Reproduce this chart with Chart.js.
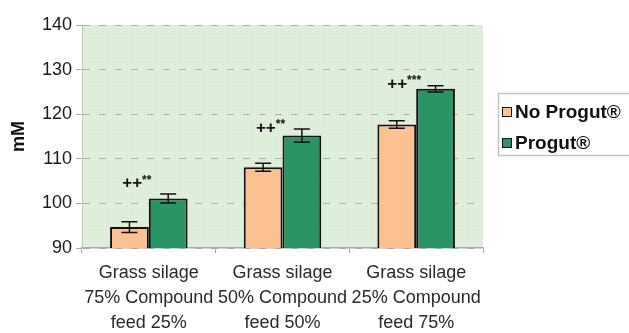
<!DOCTYPE html>
<html>
<head>
<meta charset="utf-8">
<script src="https://cdn.jsdelivr.net/npm/chart.js@4/dist/chart.umd.min.js"></script>
<style>
  html, body { margin: 0; padding: 0; background: #fff; }
  #wrap { width: 629px; height: 333px; }
</style>
</head>
<body>
<div id="wrap"><canvas id="myChart" width="629" height="333"></canvas></div>
<script>
// data
const categories = [
  ['Grass silage', '75% Compound', 'feed 25%'],
  ['Grass silage', '50% Compound', 'feed 50%'],
  ['Grass silage', '25% Compound', 'feed 75%']
];
const noProgut = [94.7, 108.1, 117.7];
const noProgutErr = [1.2, 0.9, 0.85];
const progut = [101.1, 115.2, 125.7];
const progutErr = [1.0, 1.5, 0.7];
const marks = ['++**', '++**', '++***'];
const markLevel = [104.4, 116.9, 126.8];
const yTicks = [90, 100, 110, 120, 130, 140];

const FONT = '"Liberation Sans", Arial, sans-serif';

// light green plot background with faint dots
const plotBg = {
  id: 'plotBg',
  beforeDraw(chart) {
    const { ctx, chartArea: a } = chart;
    const pc = document.createElement('canvas');
    pc.width = 3; pc.height = 3;
    const p = pc.getContext('2d');
    p.fillStyle = '#e0eedc';
    p.fillRect(0, 0, 3, 3);
    p.fillStyle = '#d3e4cf';
    p.fillRect(1, 1, 1, 1);
    ctx.save();
    ctx.fillStyle = ctx.createPattern(pc, 'repeat');
    ctx.fillRect(a.left, a.top, a.right - a.left, a.bottom - a.top);
    ctx.restore();
  }
};

// error bars + significance marks
const errBars = {
  id: 'errBars',
  afterDatasetsDraw(chart) {
    const { ctx } = chart;
    const y = chart.scales.y;
    const x = chart.scales.x;
    const errs = [noProgutErr, progutErr];
    ctx.save();
    ctx.strokeStyle = '#111';
    ctx.lineWidth = 1.5;
    chart.data.datasets.forEach((ds, di) => {
      chart.getDatasetMeta(di).data.forEach((bar, i) => {
        const v = ds.data[i], e = errs[di][i];
        const t = y.getPixelForValue(v + e), b = y.getPixelForValue(v - e);
        ctx.beginPath();
        ctx.moveTo(bar.x, t); ctx.lineTo(bar.x, b);
        ctx.moveTo(bar.x - 8, t); ctx.lineTo(bar.x + 8, t);
        ctx.moveTo(bar.x - 8, b); ctx.lineTo(bar.x + 8, b);
        ctx.stroke();
      });
    });
    ctx.fillStyle = '#111';
    ctx.textBaseline = 'middle';
    marks.forEach((m, i) => {
      const plus = m.replace(/\*/g, ''), stars = m.replace(/\+/g, '');
      ctx.font = 'bold 17px ' + FONT;
      const pw = ctx.measureText(plus).width;
      ctx.font = 'bold 12px ' + FONT;
      const sw = ctx.measureText(stars).width;
      const cx = x.getPixelForValue(i) - 12;
      const cy = y.getPixelForValue(markLevel[i]);
      const left = cx - (pw + sw) / 2;
      ctx.font = 'bold 17px ' + FONT;
      ctx.textAlign = 'left';
      ctx.fillText(plus, left, cy);
      ctx.font = 'bold 12px ' + FONT;
      ctx.fillText(stars, left + pw, cy - 3);
    });
    ctx.restore();
  }
};

// legend box on the right (cut by the page edge like the original)
const sideLegend = {
  id: 'sideLegend',
  afterDraw(chart) {
    const { ctx } = chart;
    ctx.save();
    ctx.fillStyle = '#fff';
    ctx.strokeStyle = '#c4c4c4';
    ctx.lineWidth = 1.5;
    ctx.fillRect(498, 93, 140, 63);
    ctx.strokeRect(498.5, 93.5, 140, 62);
    ctx.font = 'bold 19px ' + FONT;
    ctx.textBaseline = 'middle';
    ctx.textAlign = 'left';
    const rows = [112, 143];
    chart.data.datasets.forEach((ds, i) => {
      ctx.fillStyle = ds.backgroundColor;
      ctx.fillRect(502, rows[i] - 5, 10, 10);
      ctx.strokeStyle = '#111';
      ctx.lineWidth = 1;
      ctx.strokeRect(502.5, rows[i] - 4.5, 9, 9);
      ctx.fillStyle = '#111';
      ctx.fillText(ds.label, 515, rows[i] + 1);
    });
    ctx.restore();
  }
};

const config = {
  type: 'bar',
  data: {
    labels: categories,
    datasets: [
      {
        label: 'No Progut®',
        data: noProgut,
        backgroundColor: '#fbc192',
        borderColor: '#111',
        borderWidth: 2,
        borderSkipped: false
      },
      {
        label: 'Progut®',
        data: progut,
        backgroundColor: '#2a9464',
        borderColor: '#111',
        borderWidth: 2,
        borderSkipped: false
      }
    ]
  },
  options: {
    responsive: false,
    animation: false,
    events: [],
    layout: { padding: { left: 0, right: 146, top: 25, bottom: 0 } },
    plugins: { legend: { display: false }, tooltip: { enabled: false } },
    datasets: { bar: { categoryPercentage: 0.58, barPercentage: 1 } },
    scales: {
      x: {
        afterFit(s) { s.height = 85; },
        grid: {
          drawOnChartArea: false,
          drawTicks: true,
          tickLength: 5,
          tickColor: '#a8a8a8'
        },
        border: { display: true, color: '#a8a8a8', width: 1.5 },
        ticks: {
          color: '#2a2a2a',
          padding: 8,
          maxRotation: 0,
          font: { family: FONT, size: 18, lineHeight: 1.38 }
        }
      },
      y: {
        min: 90,
        max: 140,
        afterFit(s) { s.width = 82; },
        afterBuildTicks(s) { s.ticks = yTicks.map(v => ({ value: v })); },
        grid: {
          color: '#a9b3a7',
          lineWidth: 1,
          tickLength: 6,
          tickColor: '#a8a8a8'
        },
        border: { display: true, color: '#c0c8be', width: 1, dash: [7, 9] },
        ticks: {
          color: '#1a1a1a',
          padding: 4,
          font: { family: FONT, size: 18 }
        },
        title: {
          display: true,
          text: 'mM',
          color: '#111',
          padding: { top: 8, bottom: 0 },
          font: { family: FONT, size: 18, weight: 'bold' }
        }
      }
    }
  },
  plugins: [plotBg, errBars, sideLegend]
};

const myChart = new Chart(document.getElementById('myChart'), config);
</script>
</body>
</html>
